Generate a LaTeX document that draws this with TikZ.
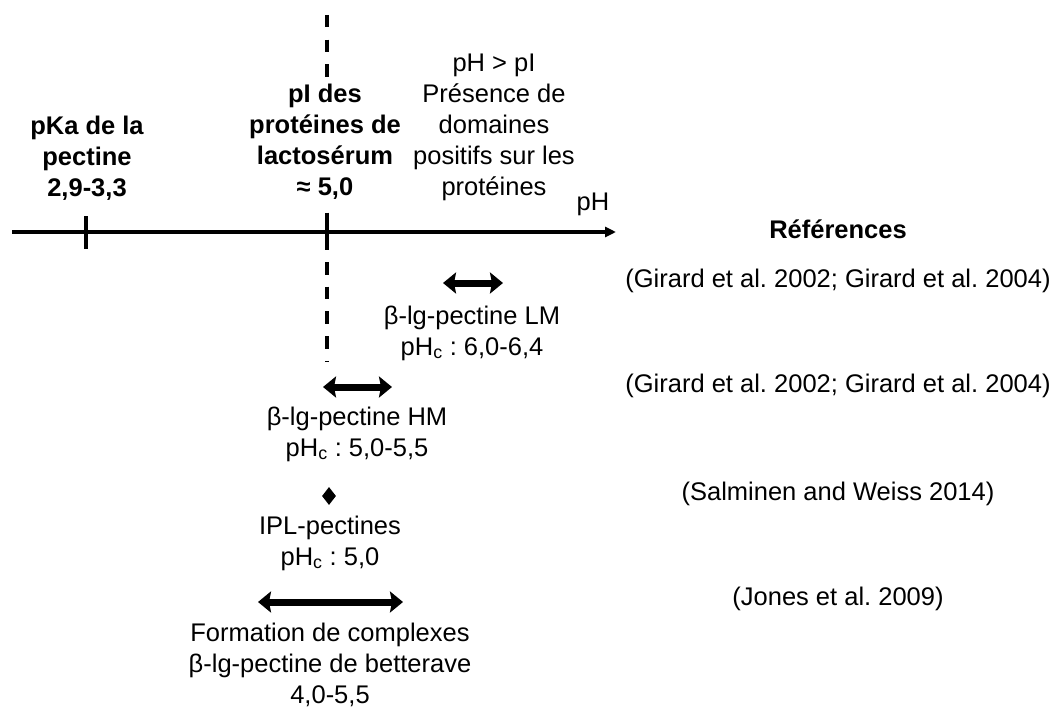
\documentclass[tikz,border=0pt]{standalone}
\usepackage{fontspec}
\setmainfont{Liberation Sans}
\usetikzlibrary{arrows.meta,shapes.geometric}
\frenchspacing
\begin{document}
\begin{tikzpicture}[x=1pt,y=-1pt,
  every node/.style={font=\fontsize{25.5}{31}\selectfont\frenchspacing, inner sep=0pt, align=center},
  bold/.style={font=\fontsize{25.5}{31}\selectfont\bfseries},
  axisline/.style={line width=3.2pt, -{Triangle[length=11pt,width=10pt]}},
  tickline/.style={line width=3.2pt},
  dashline/.style={line width=3.4pt, dash pattern=on 12.5pt off 12.2pt},
  rangearrow/.style={line width=7pt, {Stealth[length=13pt,width=21pt,inset=2pt]}-{Stealth[length=13pt,width=21pt,inset=2pt]}},
]
\useasboundingbox (0,0) rectangle (1057,709);

% dashed line of pI
\coordinate (dtop) at (327,15);
\coordinate (dbot) at (327,361);
\draw[dashline] (dtop) -- (dbot);

% axis
\coordinate (ax0) at (12,232);
\coordinate (ax1) at (616,232);
\draw[axisline] (ax0) -- (ax1);
\coordinate (t1a) at (86,216); \coordinate (t1b) at (86,249);
\coordinate (t2a) at (327,216); \coordinate (t2b) at (327,249);
\draw[tickline] (t1a) -- (t1b);
\draw[tickline] (t2a) -- (t2b);

% top labels
\node[bold] (pka) at (87,158) {pKa de la\\pectine\\2,9-3,3};
\node[bold, fill=white] (pi) at (325,142) {pI des\\protéines de\\lactosérum\\≈ 5,0};
\node (pos) at (494,127) {pH > pI\\Présence de\\domaines\\positifs sur les\\protéines};
\node (ph) at (593,204) {pH};
\node[bold] (refs) at (838,229) {Références};

% references
\node (g1) at (838,281) {(Girard et al. 2002; Girard et al. 2004)};
\node (g2) at (838,386) {(Girard et al. 2002; Girard et al. 2004)};
\node (sal) at (838,494) {(Salminen and Weiss 2014)};
\node (jon) at (838,599) {(Jones et al. 2009)};

% ranges
\coordinate (lm0) at (443,283); \coordinate (lm1) at (503,283);
\draw[rangearrow] (lm0) -- (lm1);
\node (lmt) at (472,333) {β-lg-pectine LM\\pH\textsubscript{c} : 6,0-6,4};

\coordinate (hm0) at (323,387); \coordinate (hm1) at (392,387);
\draw[rangearrow] (hm0) -- (hm1);
\node (hmt) at (357,434) {β-lg-pectine HM\\pH\textsubscript{c} : 5,0-5,5};

\node[diamond, fill=black, minimum width=14pt, minimum height=18pt] (dia) at (329,496) {};
\node (iplt) at (330,543) {IPL-pectines\\pH\textsubscript{c} : 5,0};

\coordinate (jo0) at (258,602); \coordinate (jo1) at (403,602);
\draw[rangearrow] (jo0) -- (jo1);
\node (jot) at (330,665) {Formation de complexes\\β-lg-pectine de betterave\\4,0-5,5};
\end{tikzpicture}
\end{document}
